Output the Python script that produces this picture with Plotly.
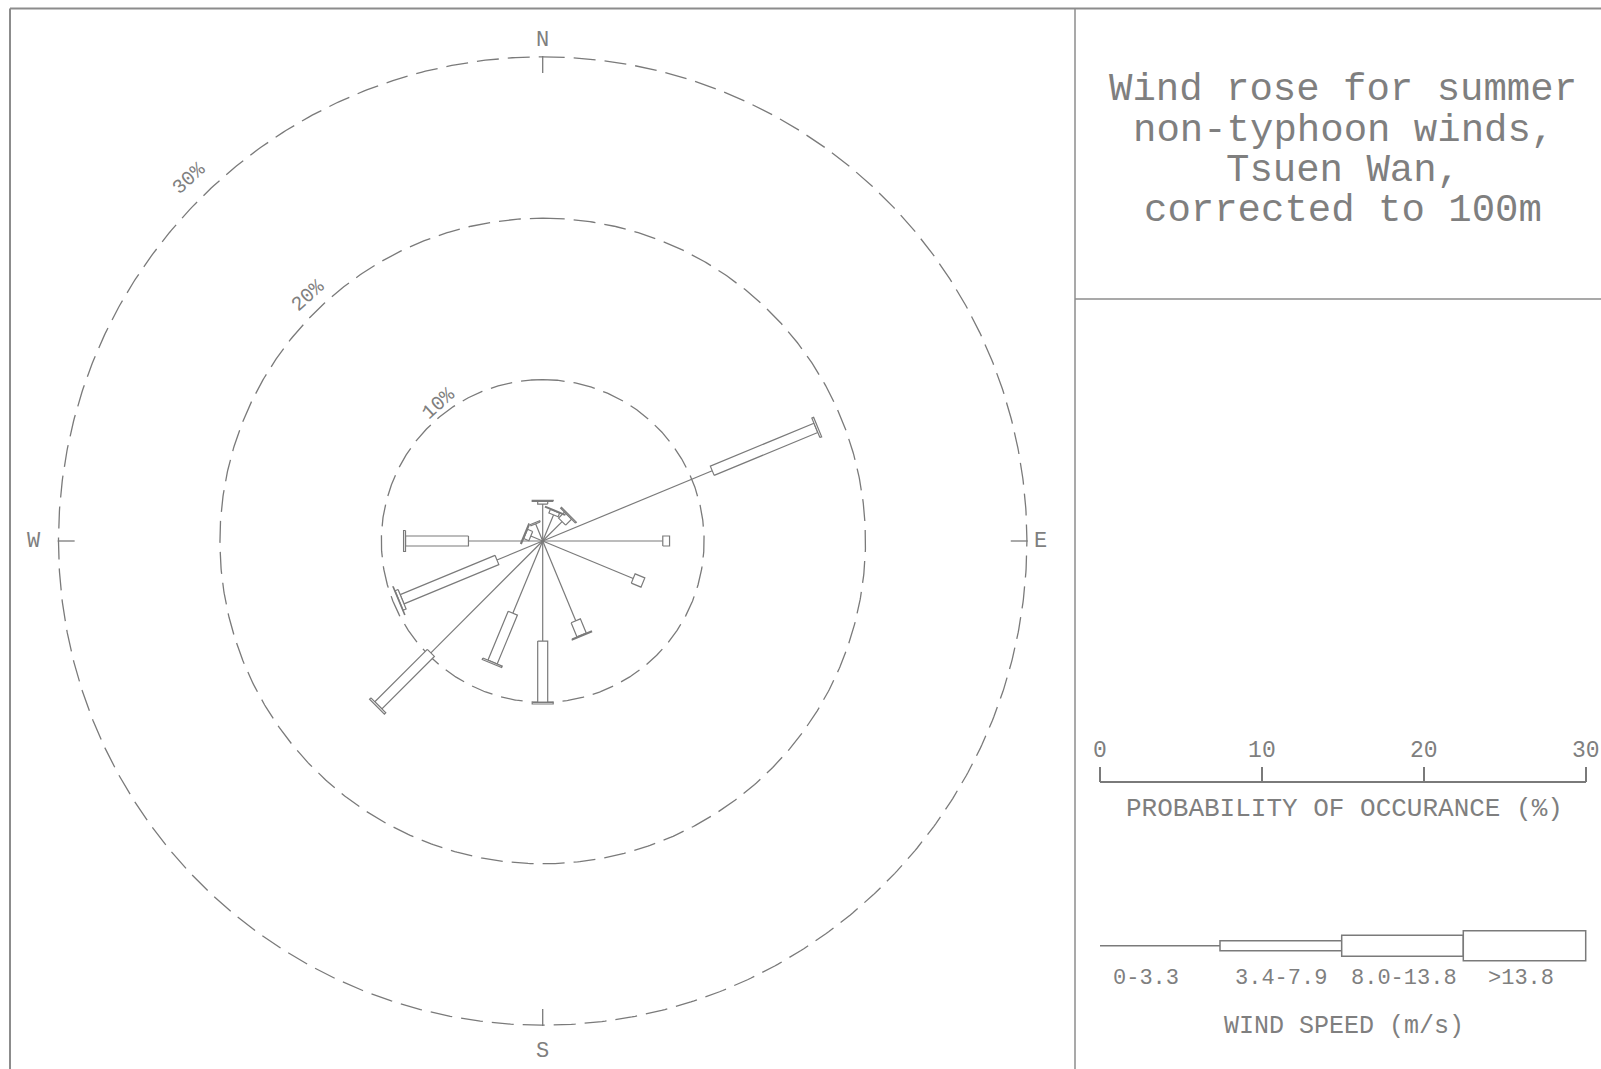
import numpy as np
import plotly.graph_objects as go

# ---------------- data ----------------
directions = ["N", "NNE", "NE", "ENE", "E", "ESE", "SE", "SSE",
              "S", "SSW", "SW", "WSW", "W", "WNW", "NW", "NNW"]
bearings = [0, 22.5, 45, 67.5, 90, 112.5, 135, 157.5,
            180, 202.5, 225, 247.5, 270, 292.5, 315, 337.5]
speed_classes = ["0-3.3", "3.4-7.9", "8.0-13.8", ">13.8"]
# probability of occurrence (%) per speed class
p_0_3 = [2.29, 1.75, 1.70, 11.37, 7.44, 6.07, 0.0, 5.35,
         6.20, 4.84, 9.80, 3.07, 4.60, 0.80, 0.0, 1.15]
p_3_8 = [0.17, 0.25, 0.52, 6.95, 0.42, 0.65, 0.0, 0.95,
         3.80, 3.28, 4.60, 6.36, 3.90, 0.35, 0.0, 0.08]
p_8_14 = [0.06, 0.05, 0.08, 0.12, 0.0, 0.0, 0.0, 0.06,
          0.10, 0.10, 0.12, 0.20, 0.12, 0.06, 0.0, 0.0]
p_14 = [0.0, 0.0, 0.0, 0.0, 0.0, 0.0, 0.0, 0.0,
        0.0, 0.0, 0.0, 0.03, 0.0, 0.0, 0.0, 0.0]
rings = [10, 20, 30]
ring_labels = ["10%", "20%", "30%"]
scale_ticks = [0, 10, 20, 30]
title_lines = ["Wind rose for summer", "non-typhoon winds,", "Tsuen Wan,", "corrected to 100m"]

# ---------------- layout constants ----------------
W, H = 1601, 1069
CX, CY = 542.7, 541.0      # rose centre in pixels
PX = 16.14                 # pixels per 1 %
GRAY = "#7a7a7a"
TXT = "#7f7f7f"
FONT = "Liberation Mono"

def px2x(px):
    return (px - CX) / PX

def py2y(py):
    return (CY - py) / PX

def pxp(px):
    return px / W

def pyp(py):
    return 1 - py / H

fig = go.Figure()

# dashed rings
th = np.linspace(0, 2 * np.pi, 900)
for r in rings:
    fig.add_trace(go.Scatter(x=r * np.sin(th), y=r * np.cos(th), mode="lines",
                             line=dict(color=GRAY, width=1.3, dash="22px,9px"),
                             hoverinfo="skip", showlegend=False))

# compass ticks on the outer ring
tx, ty = [], []
for b in [0, 90, 180, 270]:
    a = np.radians(b)
    for r in (29.0, 30.05):
        tx.append(r * np.sin(a)); ty.append(r * np.cos(a))
    tx.append(None); ty.append(None)
fig.add_trace(go.Scatter(x=tx, y=ty, mode="lines", line=dict(color=GRAY, width=1.3),
                         hoverinfo="skip", showlegend=False))

# calm / light wind lines (0-3.3)
lx, ly = [], []
for b, v in zip(bearings, p_0_3):
    if v <= 0:
        continue
    a = np.radians(b)
    lx += [0, v * np.sin(a), None]
    ly += [0, v * np.cos(a), None]
fig.add_trace(go.Scatter(x=lx, y=ly, mode="lines", line=dict(color=GRAY, width=1.2),
                         hoverinfo="skip", showlegend=False, name=speed_classes[0]))

# boxes for higher classes
half_w = [5.0 / PX, 10.5 / PX, 15.0 / PX]
classes = [p_3_8, p_8_14, p_14]
base = list(p_0_3)
for ci, vals in enumerate(classes):
    bx, by = [], []
    for i, (b, v) in enumerate(zip(bearings, vals)):
        r0 = base[i]
        r1 = r0 + v
        base[i] = r1
        if v <= 0:
            continue
        a = np.radians(b)
        ux, uy = np.sin(a), np.cos(a)
        nx, ny = np.cos(a), -np.sin(a)
        h = half_w[ci]
        pts = [(r0 * ux + h * nx, r0 * uy + h * ny),
               (r1 * ux + h * nx, r1 * uy + h * ny),
               (r1 * ux - h * nx, r1 * uy - h * ny),
               (r0 * ux - h * nx, r0 * uy - h * ny),
               (r0 * ux + h * nx, r0 * uy + h * ny)]
        for p in pts:
            bx.append(p[0]); by.append(p[1])
        bx.append(None); by.append(None)
    if bx:
        fig.add_trace(go.Scatter(x=bx, y=by, mode="lines", fill="toself",
                                 fillcolor="white", line=dict(color=GRAY, width=1.2),
                                 hoverinfo="skip", showlegend=False,
                                 name=speed_classes[ci + 1]))

# ruler axis trace (invisible) to activate xaxis2
fig.add_trace(go.Scatter(x=[0, 30], y=[0, 0], xaxis="x2", yaxis="y2", mode="markers",
                         marker=dict(opacity=0), hoverinfo="skip", showlegend=False))

annotations = []
# ring labels
ring_pos = [(323.0, 10.7), (316.3, 21.0), (315.7, 31.35)]
for lab, (b, r) in zip(ring_labels, ring_pos):
    a = np.radians(b)
    annotations.append(dict(x=r * np.sin(a), y=r * np.cos(a), xref="x", yref="y",
                            text=lab, showarrow=False, textangle=-42,
                            xanchor="center", yanchor="middle",
                            font=dict(family=FONT, size=20, color=TXT)))
# compass labels
for lab, x, y in [("N", 0, py2y(40)), ("S", 0, py2y(1051.6)),
                  ("W", px2x(34), 0), ("E", px2x(1040), 0)]:
    annotations.append(dict(x=x, y=y, xref="x", yref="y", text=lab, showarrow=False,
                            xanchor="center", yanchor="middle",
                            font=dict(family=FONT, size=22, color=TXT)))

def add_text(text, px, py, size):
    annotations.append(dict(x=pxp(px), y=pyp(py), xref="paper", yref="paper",
                            text=text, showarrow=False, xanchor="center", yanchor="middle",
                            font=dict(family=FONT, size=size, color=TXT)))

# title
for i, t in enumerate(title_lines):
    add_text(t, 1343, 90 + 40.5 * i, 39)
add_text("PROBABILITY OF OCCURANCE (%)", 1344, 809, 26)
for lab, px in zip(speed_classes, [1145.6, 1281, 1404, 1521]):
    add_text(lab.replace(">", "&gt;"), px, 978, 22)
add_text("WIND SPEED (m/s)", 1344, 1026.5, 25)

shapes = []
LC = "#8c8c8c"
# frame
shapes.append(dict(type="line", xref="paper", yref="paper", x0=pxp(10), x1=pxp(10),
                   y0=pyp(8.5), y1=pyp(H + 5), line=dict(color=LC, width=2)))
shapes.append(dict(type="line", xref="paper", yref="paper", x0=pxp(10), x1=pxp(W + 5),
                   y0=pyp(8.5), y1=pyp(8.5), line=dict(color=LC, width=2)))
shapes.append(dict(type="line", xref="paper", yref="paper", x0=pxp(1075), x1=pxp(1075),
                   y0=pyp(8.5), y1=pyp(H + 5), line=dict(color=LC, width=1.5)))
shapes.append(dict(type="line", xref="paper", yref="paper", x0=pxp(1075), x1=pxp(W + 5),
                   y0=pyp(299), y1=pyp(299), line=dict(color=LC, width=1.5)))
# legend swatches
ly0 = 945.7
shapes.append(dict(type="line", xref="paper", yref="paper", x0=pxp(1100), x1=pxp(1220),
                   y0=pyp(ly0), y1=pyp(ly0), line=dict(color=GRAY, width=1.5)))
for (xa, xb), hh in zip([(1220, 1341.7), (1341.7, 1463.3), (1463.3, 1585.7)], [5, 10.5, 15]):
    shapes.append(dict(type="rect", xref="paper", yref="paper", x0=pxp(xa), x1=pxp(xb),
                       y0=pyp(ly0 - hh), y1=pyp(ly0 + hh), fillcolor="white",
                       line=dict(color=GRAY, width=1.5)))

fig.update_layout(
    width=W, height=H, autosize=False, margin=dict(l=0, r=0, t=0, b=0, pad=0),
    paper_bgcolor="white", plot_bgcolor="white",
    showlegend=False,
    xaxis=dict(domain=[0, 1], range=[px2x(0), px2x(W)], visible=False, fixedrange=True,
               automargin=False),
    yaxis=dict(domain=[0, 1], range=[py2y(H), py2y(0)], visible=False, fixedrange=True,
               automargin=False),
    xaxis2=dict(domain=[pxp(1100), pxp(1585.7)], range=[0, 30], anchor="y2", side="top",
                tickvals=scale_ticks, ticktext=[str(t) for t in scale_ticks],
                ticks="outside", ticklen=15, tickwidth=1.5, tickcolor=GRAY,
                showline=True, linecolor=GRAY, linewidth=1.5, showgrid=False,
                zeroline=False, tickfont=dict(family=FONT, size=23, color=TXT),
                fixedrange=True, automargin=False),
    yaxis2=dict(domain=[pyp(783.3) - 0.02, pyp(783.3)], range=[-1, 1], visible=False,
                anchor="x2", fixedrange=True, automargin=False),
    annotations=annotations, shapes=shapes,
)

fig.write_html("out.html", config={"displayModeBar": False},
               post_script="document.body.style.margin='0';document.body.style.overflow='hidden';")
